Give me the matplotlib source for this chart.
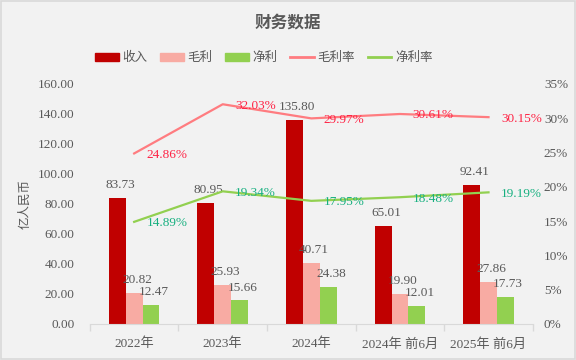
import matplotlib
matplotlib.use("Agg")
import matplotlib.pyplot as plt
import numpy as np
from matplotlib.patches import Rectangle
from matplotlib.lines import Line2D
from matplotlib.patches import Patch

categories = ["2022年", "2023年", "2024年", "2024年 前6月", "2025年 前6月"]
revenue = [83.73, 80.95, 135.80, 65.01, 92.41]
gross_profit = [20.82, 25.93, 40.71, 19.90, 27.86]
net_profit = [12.47, 15.66, 24.38, 12.01, 17.73]
gross_margin = [24.86, 32.03, 29.97, 30.61, 30.15]
net_margin = [14.89, 19.34, 17.95, 18.48, 19.19]
left_ticks = [0, 20, 40, 60, 80, 100, 120, 140, 160]
right_ticks = [0, 5, 10, 15, 20, 25, 30, 35]

FAM = ["Liberation Serif", "Noto Sans CJK SC"]
plt.rcParams["font.family"] = FAM
TXT = "#595959"
BG = "#F2F2F2"

fig = plt.figure(figsize=(5.76, 3.6), dpi=100, facecolor=BG)
fig.patches.append(Rectangle((0.002, 0.003), 0.996, 0.994, transform=fig.transFigure,
                             fill=False, edgecolor="#D9D9D9", lw=1.2))
ax = fig.add_axes([0.156, 0.1, 0.769, 0.667])
ax.set_facecolor(BG)
ax2 = ax.twinx()

x = np.arange(len(categories))
w = 0.19
c_rev, c_gp, c_np = "#C00000", "#F8ABA3", "#92D050"
c_gm, c_nm = "#FF7C80", "#92D050"

b1 = ax.bar(x - w, revenue, w, color=c_rev, zorder=2)
b2 = ax.bar(x, gross_profit, w, color=c_gp, zorder=2)
b3 = ax.bar(x + w, net_profit, w, color=c_np, zorder=2)
for bars, vals in [(b1, revenue), (b2, gross_profit), (b3, net_profit)]:
    for b, v in zip(bars, vals):
        ax.annotate(f"{v:.2f}", (b.get_x() + b.get_width() / 2, v), xytext=(2, 5),
                    textcoords="offset points", ha="center", va="bottom",
                    fontsize=9.5, color=TXT, zorder=5)

ax.set_xlim(-0.5, len(categories) - 0.5)
ax.set_ylim(0, 160)
ax.set_yticks(left_ticks)
ax.set_yticklabels([f"{v:.2f}" for v in left_ticks])
ax.set_xticks(x)
ax.set_xticklabels(categories)
ax.set_xticks(np.arange(len(categories) + 1) - 0.5, minor=True)
ax.tick_params(axis="x", which="major", length=0, pad=10, labelsize=9.5, labelcolor=TXT)
ax.tick_params(axis="x", which="minor", length=5, color="#D9D9D9", width=1)
ax.tick_params(axis="y", length=0, pad=11, labelsize=9.5, labelcolor=TXT)
for s in ["top", "right", "left"]:
    ax.spines[s].set_visible(False)
ax.spines["bottom"].set_color("#D9D9D9")
ax.set_ylabel("亿人民币", fontsize=9, color=TXT, labelpad=5)

ax2.plot(x, gross_margin, color=c_gm, lw=1.6, zorder=3)
ax2.plot(x, net_margin, color=c_nm, lw=1.6, zorder=3)
for xi, v in zip(x, gross_margin):
    ax2.annotate(f"{v:.2f}%", (xi, v), xytext=(9, -1), textcoords="offset points",
                 ha="left", va="center", fontsize=9.5, color="#FF2244", zorder=6)
for xi, v in zip(x, net_margin):
    ax2.annotate(f"{v:.2f}%", (xi, v), xytext=(9, -1), textcoords="offset points",
                 ha="left", va="center", fontsize=9.5, color="#17B080", zorder=6)
ax2.set_ylim(0, 35)
ax2.set_yticks(right_ticks)
ax2.set_yticklabels([f"{v}%" for v in right_ticks])
ax2.tick_params(axis="y", length=0, pad=8, labelsize=9.5, labelcolor=TXT)
for s in ["top", "right", "left", "bottom"]:
    ax2.spines[s].set_visible(False)

fig.text(0.5, 0.935, "财务数据", ha="center", va="center", fontsize=12,
         fontweight="bold", color=TXT)

handles = [Patch(color=c_rev), Patch(color=c_gp), Patch(color=c_np),
           Line2D([], [], color=c_gm, lw=2), Line2D([], [], color=c_nm, lw=2)]
labels = ["收入", "毛利", "净利", "毛利率", "净利率"]
fig.legend(handles, labels, loc="center", bbox_to_anchor=(0.458, 0.838), ncol=5,
           frameon=False, fontsize=9, labelcolor=TXT, handlelength=1.9,
           handleheight=0.7, columnspacing=1.0, handletextpad=0.3)

fig.savefig("out.png", dpi=100, facecolor=BG)
